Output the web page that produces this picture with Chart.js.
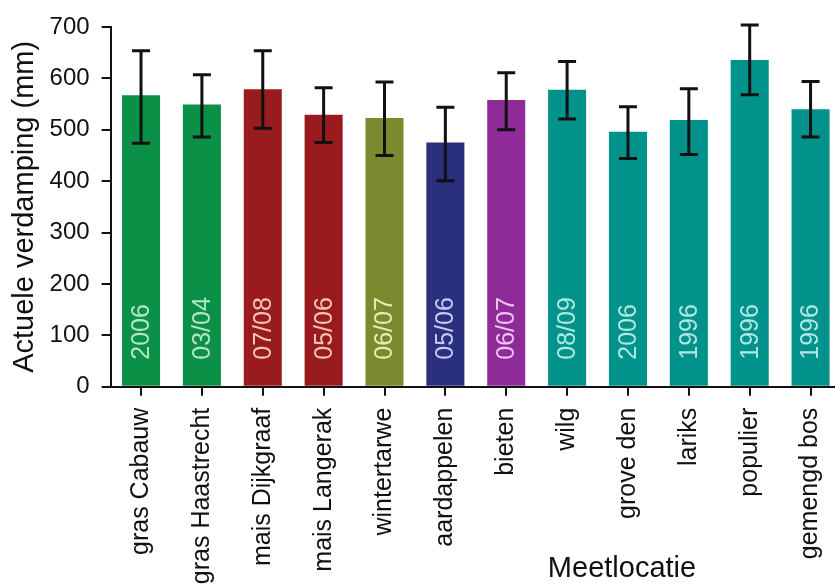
<!DOCTYPE html>
<html>
<head>
<meta charset="utf-8">
<script src="https://cdn.jsdelivr.net/npm/chart.js@4/dist/chart.umd.min.js"></script>
<style>
  html, body { margin: 0; padding: 0; background: #ffffff; overflow: hidden; }
  #wrap { width: 845px; height: 588px; }
</style>
</head>
<body>
<div id="wrap"><canvas id="c" width="845" height="588"></canvas></div>
<script>
// Measurement sites
const categories = ['gras Cabauw', 'gras Haastrecht', 'mais Dijkgraaf', 'mais Langerak', 'wintertarwe',
  'aardappelen', 'bieten', 'wilg', 'grove den', 'lariks', 'populier', 'gemengd bos'];
// Mean actual evapotranspiration (mm)
const evaporation = [567, 549, 579, 529, 523, 475, 558, 578, 496, 519, 636, 540];
// Error bar upper and lower ends (mm)
const errorHigh = [654, 607, 654, 582, 593, 544, 611, 633, 545, 580, 704, 594];
const errorLow  = [474, 486, 503, 475, 450, 401, 500, 521, 444, 452, 568, 486];
// Measurement period printed inside each bar
const periods = ['2006', '03/04', '07/08', '05/06', '06/07', '05/06', '06/07', '08/09', '2006', '1996', '1996', '1996'];
// Y axis ticks
const yTicks = [0, 100, 200, 300, 400, 500, 600, 700];

// Land-use colour groups: grass, maize, wheat, potato, beet, forest
const barColors = ['#0a9147', '#0a9147', '#9a1b1d', '#9a1b1d', '#7a8a2e', '#2b307e', '#8e2b98',
  '#00928b', '#00928b', '#00928b', '#00928b', '#00928b'];
const periodColors = ['#b4e6c2', '#b4e6c2', '#f4c6b6', '#f4c6b6', '#e8ecae', '#c4caf0', '#f2c2f0',
  '#aee8e0', '#aee8e0', '#aee8e0', '#aee8e0', '#aee8e0'];

const FONT = "'Liberation Sans', Arial, sans-serif";

const errorBars = {
  id: 'errorBars',
  afterDatasetsDraw(chart) {
    const { ctx, scales: { x, y } } = chart;
    ctx.save();
    ctx.strokeStyle = '#111';
    ctx.lineWidth = 3;
    const cap = 9;
    errorHigh.forEach((hi, i) => {
      const cx = x.getPixelForValue(i);
      const yh = y.getPixelForValue(hi);
      const yl = y.getPixelForValue(errorLow[i]);
      ctx.beginPath();
      ctx.moveTo(cx, yh); ctx.lineTo(cx, yl);
      ctx.moveTo(cx - cap, yh); ctx.lineTo(cx + cap, yh);
      ctx.moveTo(cx - cap, yl); ctx.lineTo(cx + cap, yl);
      ctx.stroke();
    });
    ctx.restore();
  }
};

const periodLabels = {
  id: 'periodLabels',
  afterDatasetsDraw(chart) {
    const { ctx, scales: { x, y } } = chart;
    ctx.save();
    ctx.font = '25px ' + FONT;
    ctx.textAlign = 'left';
    ctx.textBaseline = 'middle';
    const y0 = y.getPixelForValue(0);
    periods.forEach((p, i) => {
      ctx.save();
      ctx.translate(x.getPixelForValue(i) + 1, y0 - 27);
      ctx.rotate(-Math.PI / 2);
      ctx.fillStyle = periodColors[i];
      ctx.fillText(p, 0, 0);
      ctx.restore();
    });
    ctx.restore();
  }
};

const xTitle = {
  id: 'xTitle',
  afterDraw(chart) {
    const { ctx } = chart;
    ctx.save();
    ctx.font = '29px ' + FONT;
    ctx.fillStyle = '#111';
    ctx.textAlign = 'center';
    ctx.textBaseline = 'alphabetic';
    ctx.fillText('Meetlocatie', 622, 577);
    ctx.restore();
  }
};

new Chart(document.getElementById('c'), {
  type: 'bar',
  data: {
    labels: categories,
    datasets: [{
      data: evaporation,
      backgroundColor: barColors,
      borderWidth: 0,
      categoryPercentage: 1,
      barPercentage: 0.625
    }]
  },
  options: {
    responsive: false,
    animation: false,
    events: [],
    layout: { padding: { top: 27, right: 4, left: 0, bottom: 0 } },
    plugins: { legend: { display: false }, tooltip: { enabled: false } },
    scales: {
      x: {
        type: 'category',
        offset: true,
        grid: { offset: false, drawOnChartArea: false, drawTicks: true, tickLength: 9, color: '#111', lineWidth: 2 },
        border: { display: true, color: '#111', width: 2 },
        ticks: {
          color: '#111',
          font: { family: FONT, size: 25 },
          maxRotation: 90, minRotation: 90,
          padding: 12,
          autoSkip: false
        },
        afterFit(scale) {
          scale.height = 201.3;
          scale.paddingLeft = 0;
          scale.paddingRight = 0;
        }
      },
      y: {
        min: 0, max: 700,
        afterBuildTicks(scale) { scale.ticks = yTicks.map(v => ({ value: v })); },
        grid: { drawOnChartArea: false, drawTicks: true, tickLength: 9, color: '#111', lineWidth: 2 },
        border: { display: true, color: '#111', width: 2 },
        ticks: {
          color: '#111',
          font: { family: FONT, size: 24 },
          padding: 12
        },
        title: {
          display: true,
          text: 'Actuele verdamping (mm)',
          color: '#111',
          font: { family: FONT, size: 29 },
          padding: { top: 8, bottom: 0 }
        },
        afterFit(scale) { scale.width = 110.6; }
      }
    }
  },
  plugins: [errorBars, periodLabels, xTitle]
});
</script>
</body>
</html>
